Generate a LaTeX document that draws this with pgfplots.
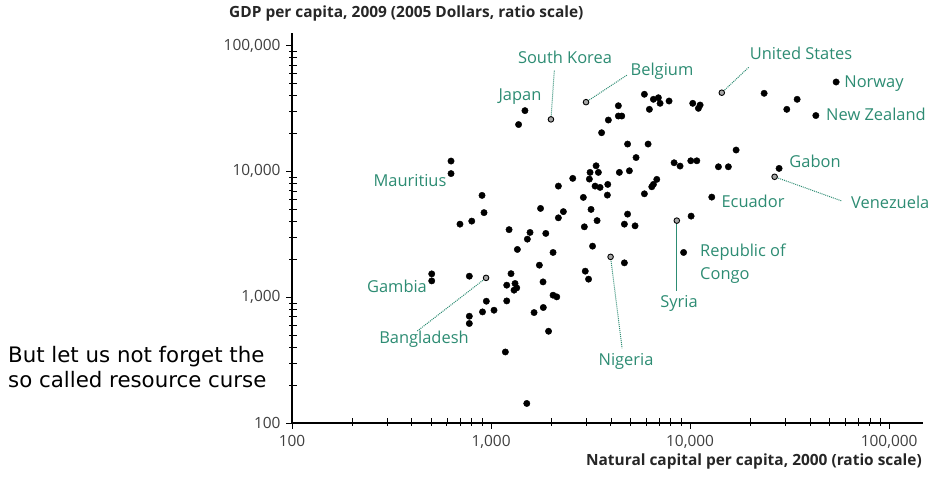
\documentclass[border=0pt]{standalone}
\usepackage{pgfplots}
\pgfplotsset{compat=1.18}
\usepackage{fontspec}
\setmainfont{Open Sans}
\newfontfamily\leftfont{DejaVu Sans}
\definecolor{lbl}{RGB}{45,140,115}
\begin{document}
\begin{tikzpicture}
\begin{axis}[
  xmode=log, ymode=log,
  scale only axis, width=631bp, height=390bp,
  xmin=100, xmax=148000, ymin=100, ymax=125900,
  axis x line=bottom, axis y line=left,
  axis line style={-, line width=1.2bp, black},
  xtick={100,1000,10000,100000}, xticklabels={100,{1,000},{10,000},{100,000}},
  ytick={100,1000,10000,100000}, yticklabels={100,{1,000},{10,000},{100,000}},
  minor xtick={}, minor ytick={},
  tick align=outside, major tick length=6bp,
  tick style={black, line width=0.8bp},
  extra x ticks={200,300,400,500,600,700,800,900,2000,3000,4000,5000,6000,7000,8000,9000,20000,30000,40000,50000,60000,70000,80000,90000},
  extra y ticks={200,300,400,500,600,700,800,900,2000,3000,4000,5000,6000,7000,8000,9000,20000,30000,40000,50000,60000,70000,80000,90000},
  extra x tick labels={}, extra y tick labels={},
  extra tick style={tick align=inside, major tick length=5bp, tick style={black, line width=0.7bp}},
  ticklabel style={font=\fontsize{15.5}{17}\selectfont, text=black!75},
  xticklabel style={yshift=-3bp},
  yticklabel style={xshift=-2bp},
  clip=false,
]
\addplot[only marks, mark=*, mark size=3.2bp, black] table {
x y
1480 30400
1375 23570
3885 25590
3593 20290
4362 33250
4362 27540
4537 27540
5894 41000
6541 37400
6930 38500
7067 34750
7843 36250
6245 31130
10310 34750
11230 33690
11010 31710
23550 41740
34500 37400
30610 31130
54170 51340
42830 27790
629.5 12080
629.5 9605
4852 16490
6152 16490
5353 12880
8311 11710
8906 11020
10080 12140
10810 12140
17030 14780
13880 10880
15570 10880
28000 10560
3371 11080
3144 9817
3462 9817
4413 9817
4955 10110
2573 8797
3119 8685
2179 7640
3332 7640
3530 7459
3858 7880
3841 6478
5894 6635
2909 6211
6803 8639
6541 7880
6420 7542
12850 6245
901 6442
1773 5076
2309 4788
3180 4985
4852 4574
2179 4274
3410 4061
4676 3807
5291 3691
10120 4410
2943 3625
922 4700
800 4024
698 3807
1232 3443
1570 3270
1522 2893
1884 3213
3236 2545
1356 2396
2049 2267
1749 1797
9276 2267
4676 1875
503.5 1532
503.5 1348
778 1469
1260 1538
1199 1246
1320 1285
1346 1186
1305 1137
1825 1323
2974 1610
3090 1391
2049 1037
2139 1006
947 929
1199 934
906 764
1035 788
778 706
778 618
1645 755
1831 828
1945 536
1180 367
1512 143
};
\draw[lbl, densely dotted, line width=1bp] (axis cs:2000,25900) -- (axis cs:2080,63960);
\draw[lbl, densely dotted, line width=1bp] (axis cs:3000,35500) -- (axis cs:4825,58370);
\draw[lbl, densely dotted, line width=1bp] (axis cs:14430,42200) -- (axis cs:19790,67580);
\draw[lbl, densely dotted, line width=1bp] (axis cs:26580,9058) -- (axis cs:58050,5803);
\draw[lbl, densely dotted, line width=1bp] (axis cs:944,1424) -- (axis cs:424.8,536.5);
\draw[lbl, line width=1bp] (axis cs:8575,4061) -- (axis cs:8575,1116);
\draw[lbl, densely dotted, line width=1bp] (axis cs:3986,2092) -- (axis cs:4553,392.9);
\addplot[only marks, mark=*, mark size=2.8bp, mark options={draw=black, fill=black!35, line width=0.9bp}] coordinates {(2000,25900) (3000,35500) (14430,42200) (26580,9058) (944,1424) (3986,2092) (8575,4061)};
\end{axis}
\begin{scope}[shift={(current axis.south west)}, xshift=-292bp, yshift=423bp, x=1bp, y=-1bp]
\tikzset{lab/.style={text=lbl, font=\fontsize{16.5}{18}\selectfont, inner sep=0pt, text height=1.5ex, text depth=0.3ex}}
\node[lab] at (520,97) {Japan};
\node[lab] at (565,60) {South Korea};
\node[lab] at (662,72) {Belgium};
\node[lab] at (801,56) {United States};
\node[lab] at (874,84) {Norway};
\node[lab] at (876,117) {New Zealand};
\node[lab] at (815,164) {Gabon};
\node[lab, anchor=west] at (851,205) {Venezuela};
\node[lab] at (753,204) {Ecuador};
\node[lab, anchor=west] at (700,253) {Republic of};
\node[lab, anchor=west] at (700,276) {Congo};
\node[lab] at (679,304) {Syria};
\node[lab] at (626,362) {Nigeria};
\node[lab] at (410,183) {Mauritius};
\node[lab] at (397,289) {Gambia};
\node[lab] at (424,340) {Bangladesh};
\node[anchor=base west, inner sep=0pt, font=\bfseries\fontsize{15.5}{17}\selectfont, text=black!85] at (229,18) {GDP per capita, 2009 (2005 Dollars, ratio scale)};
\node[anchor=base east, inner sep=0pt, font=\bfseries\fontsize{15.5}{17}\selectfont, text=black!85] at (922,466) {Natural capital per capita, 2000 (ratio scale)};
\node[anchor=base west, inner sep=0pt, font=\leftfont\fontsize{21.4}{24}\selectfont] at (8,363) {But let us not forget the};
\node[anchor=base west, inner sep=0pt, font=\leftfont\fontsize{21.4}{24}\selectfont] at (8,388) {so called resource curse};
\pgfresetboundingbox
\path[use as bounding box] (0,0) rectangle (934,489);
\end{scope}
\end{tikzpicture}
\end{document}
